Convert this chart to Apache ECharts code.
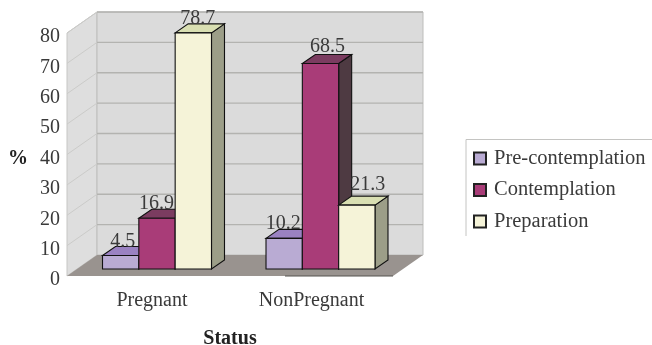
<!DOCTYPE html>
<html lang="en">
<head>
  <meta charset="UTF-8">
  <title>Status</title>
  <script src="https://cdn.jsdelivr.net/npm/echarts@6/dist/echarts.min.js"></script>
  <style>
    html, body { margin: 0; padding: 0; background: #fff; }
    /* the reference is a soft, scanned looking image */
    #main { width: 652px; height: 345px; filter: blur(0.45px); }
  </style>
</head>
<body>
<div id="main"></div>
<script>
  var categories = ['Pregnant', 'NonPregnant'];
  var seriesNames = ['Pre-contemplation', 'Contemplation', 'Preparation'];
  var preContemplation = [4.5, 10.2];
  var contemplation = [16.9, 68.5];
  var preparation = [78.7, 21.3];
  var yTicks = [0, 10, 20, 30, 40, 50, 60, 70, 80];

  var font = '"Liberation Serif", serif';
  var textColor = '#3a3a3a';
  // front, top, side
  var shades = [
    ['#b9abd3', '#9a82c2', '#6f5f90'],
    ['#a93c78', '#7b3c60', '#4e3a42'],
    ['#f5f3d8', '#d9dfb2', '#9c9e88']
  ];
  var wallDx = 30, wallDy = 21;  // depth of the chart box
  var barDx = 13, barDy = 9;     // depth of a bar
  // the value labels do not sit at a regular spot, nudged per series / category
  var labelDx = [[2, -1], [-0.5, 7], [4.5, 11]];
  var labelDy = [[-4, -5], [-5, -7], [-4, -10]];

  function poly(points, fill, stroke, lineWidth) {
    return {
      type: 'polygon',
      shape: { points: points },
      style: { fill: fill, stroke: stroke || null, lineWidth: lineWidth || 0 }
    };
  }

  function renderWalls(params, api) {
    var c = params.coordSys;
    var x0 = c.x, x1 = c.x + c.width, top = c.y, bottom = c.y + c.height;
    return {
      type: 'group',
      children: [
        poly([[x0, top], [x0 + wallDx, top - wallDy], [x0 + wallDx, bottom - wallDy], [x0, bottom]], '#dedede', '#c6c6c4', 1),
        poly([[x0 + wallDx, top - wallDy], [x1 + wallDx, top - wallDy], [x1 + wallDx, bottom - wallDy], [x0 + wallDx, bottom - wallDy]], '#dbdbdb', '#bdbdbb', 1),
        poly([[x0, bottom], [x0 + wallDx, bottom - wallDy], [x1 + wallDx, bottom - wallDy], [x1, bottom]], '#99938f'),
        { type: 'line', shape: { x1: x0 + 218, y1: bottom, x2: x1, y2: bottom }, style: { stroke: '#55524f', lineWidth: 1 } }
      ]
    };
  }

  function renderGridLine(params, api) {
    var c = params.coordSys;
    var y = api.coord([0, api.value(1)])[1];
    if (api.value(1) === 0) return { type: 'group', children: [] };
    return {
      type: 'group',
      children: [
        { type: 'line', shape: { x1: c.x, y1: y, x2: c.x + wallDx, y2: y - wallDy }, style: { stroke: '#cbcbc9', lineWidth: 1 } },
        { type: 'line', shape: { x1: c.x + wallDx, y1: y - wallDy, x2: c.x + c.width + wallDx, y2: y - wallDy }, style: { stroke: '#b3b3b0', lineWidth: 1.3 } }
      ]
    };
  }

  function makeBarRenderer(idx) {
    return function (params, api) {
      var band = api.size([1, 0])[0];
      var w = band * 0.2222;
      var cat = api.value(0);
      var center = api.coord([cat, 0])[0] + (idx - 1) * w;
      var base = api.coord([cat, 0])[1];
      var top = api.coord([cat, api.value(1)])[1];
      var l = center - w / 2, r = center + w / 2;
      var s = shades[idx];
      return {
        type: 'group',
        children: [
          poly([[r, top], [r + barDx, top - barDy], [r + barDx, base - barDy], [r, base]], s[2], '#111', 1.1),
          poly([[l, top], [l + barDx, top - barDy], [r + barDx, top - barDy], [r, top]], s[1], '#111', 1.1),
          poly([[l, top], [r, top], [r, base], [l, base]], s[0], '#111', 1.1),
          {
            type: 'text',
            style: {
              text: api.value(1).toFixed(1),
              x: center + labelDx[idx][cat],
              y: top + labelDy[idx][cat],
              align: 'center', verticalAlign: 'bottom',
              font: '20px ' + font, fill: textColor
            }
          }
        ]
      };
    };
  }

  function barSeries(idx, values) {
    return {
      name: seriesNames[idx],
      type: 'custom',
      xAxisIndex: 1,
      yAxisIndex: 1,
      clip: false,
      z: 5,
      itemStyle: { color: shades[idx][0], borderColor: '#222', borderWidth: 1.2 },
      renderItem: makeBarRenderer(idx),
      data: values.map(function (v, i) { return [i, v]; })
    };
  }

  var myChart = echarts.init(document.getElementById('main'));
  myChart.setOption({
    animation: false,
    backgroundColor: '#fff',
    legend: {
      data: seriesNames,
      orient: 'vertical',
      left: 473,
      top: 146,
      padding: 0,
      itemWidth: 12,
      itemHeight: 12,
      itemGap: 6.5,
      icon: 'rect',
      textStyle: { fontFamily: font, fontSize: 20.5, color: textColor, padding: [2, 0, 0, 3], lineHeight: 23 }
    },
    grid: [
      { left: 67, top: 33, width: 326, height: 243, outerBoundsMode: 'none' },  // front plane, holds the axes
      { left: 75.25, top: 29, width: 327, height: 240, outerBoundsMode: 'none' } // plane the bars stand on
    ],
    xAxis: [
      {
        type: 'category',
        data: categories,
        gridIndex: 0,
        name: 'Status',
        nameLocation: 'middle',
        nameGap: 53,
        nameTextStyle: { fontFamily: font, fontSize: 20, fontWeight: 'bold', color: '#222' },
        axisLine: { show: false },
        axisTick: { show: false },
        axisLabel: {
          fontFamily: font, fontSize: 20, color: textColor, margin: 15,
          formatter: function (v, i) { return i === 0 ? '{p|' + v + '}' : v; },
          rich: { p: { fontFamily: font, fontSize: 20, color: textColor, padding: [0, 0, 0, 7] } }
        }
      },
      { type: 'category', data: categories, gridIndex: 1, show: false }
    ],
    yAxis: [
      {
        type: 'value',
        gridIndex: 0,
        min: 0,
        max: 80,
        interval: 10,
        name: '%',
        nameLocation: 'middle',
        nameRotate: 0,
        nameGap: 39,
        nameTextStyle: { fontFamily: font, fontSize: 20, fontWeight: 'bold', color: '#222', verticalAlign: 'top', lineHeight: 9 },
        axisLine: { show: false },
        axisTick: { show: false },
        splitLine: { show: false },
        axisLabel: { fontFamily: font, fontSize: 20, color: textColor, margin: 7, verticalAlign: 'top', lineHeight: 8 }
      },
      { type: 'value', gridIndex: 1, min: 0, max: 80, show: false, splitLine: { show: false } }
    ],
    graphic: [
      {
        type: 'polyline',
        shape: { points: [[466, 236], [466, 139.5], [652, 139.5]] },
        style: { fill: null, stroke: '#c4c4c2', lineWidth: 1 },
        z: 1
      }
    ],
    series: [
      { name: 'walls', type: 'custom', clip: false, z: 1, renderItem: renderWalls, data: [[0, 0]] },
      {
        name: 'gridlines', type: 'custom', clip: false, z: 2, renderItem: renderGridLine,
        data: yTicks.map(function (t) { return [0, t]; })
      },
      barSeries(0, preContemplation),
      barSeries(1, contemplation),
      barSeries(2, preparation)
    ]
  });
</script>
</body>
</html>
